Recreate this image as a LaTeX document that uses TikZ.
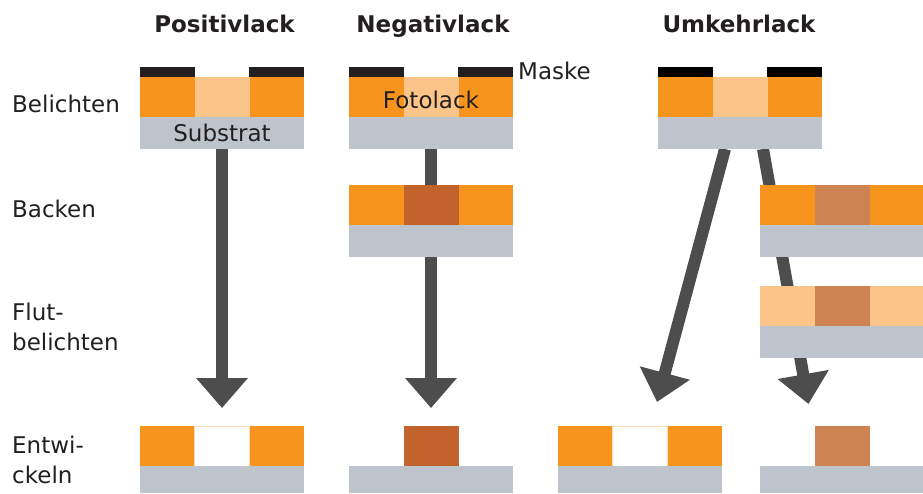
\documentclass[tikz,border=0pt]{standalone}
\usepackage{fontspec}
\setmainfont{DejaVu Sans}
\usetikzlibrary{arrows.meta}
\definecolor{ink}{HTML}{231F20}
\definecolor{resist}{HTML}{F7941E}
\definecolor{exposed}{HTML}{FBC589}
\definecolor{wafer}{HTML}{BEC4CB}
\definecolor{chrome}{HTML}{231F20}
\definecolor{baked}{HTML}{C1632B}
\definecolor{bakedlt}{HTML}{CD8452}
\definecolor{flowgray}{HTML}{4D4D4D}
\pgfdeclarelayer{back}
\pgfsetlayers{back,main}

\begin{document}
\begin{tikzpicture}[x=1pt,y=-1pt,text=ink,
  lbl/.style={font=\fontsize{23}{30}\selectfont,inner sep=0},
  colhead/.style={font=\fontsize{23}{30}\selectfont\bfseries,inner sep=0},
  film/.style={inner sep=0,outer sep=0,minimum width=164pt,minimum height=40pt,fill=resist},
  seg/.style={inner sep=0,outer sep=0,minimum width=55pt,minimum height=40pt},
  mask/.style={inner sep=0,outer sep=0,minimum width=55pt,minimum height=10pt,fill=chrome},
  sub/.style={inner sep=0,outer sep=0,minimum width=164pt,minimum height=32pt,fill=wafer},
  flow/.style={flowgray,line width=12pt,-{Triangle[width=50pt,length=30pt]}}]
  \useasboundingbox (0,0) rectangle (923,493);
  % column titles
  \node[colhead,anchor=base] (tPos) at (224.5,32) {Positivlack};
  \node[colhead,anchor=base] (tNeg) at (433,32) {Negativlack};
  \node[colhead,anchor=base] (tUmk) at (739,32) {Umkehrlack};
  % row labels (base = last line)
  \node[lbl,anchor=base west] (rBel) at (12,112) {Belichten};
  \node[lbl,anchor=base west] (rBack) at (12,217) {Backen};
  \node[lbl,anchor=base west,align=left] (rFlut) at (12,350) {Flut-\\belichten};
  \node[lbl,anchor=base west,align=left] (rEnt) at (12,483) {Entwi-\\ckeln};

  % Belichten
  \node[film,anchor=north west] (pF) at (140,77) {};
  \node[seg,fill=exposed] (pX) at (pF) {};
  \node[mask,anchor=south west] (pML) at (pF.north west) {};
  \node[mask,anchor=south east] (pMR) at (pF.north east) {};
  \node[sub,anchor=north,lbl] (pS) at (pF.south) {Substrat};

  \node[film,anchor=north west] (nF) at (349,77) {};
  \node[seg,fill=exposed] (nX) at (nF) {};
  \node[mask,anchor=south west] (nML) at (nF.north west) {};
  \node[mask,anchor=south east] (nMR) at (nF.north east) {};
  \node[sub,anchor=north] (nS) at (nF.south) {};
  \node[lbl,anchor=base] (fotolack) at (431,108) {Fotolack};
  \node[lbl,anchor=base west] (maske) at (518,79) {Maske};

  \node[film,anchor=north west] (uF) at (658,77) {};
  \node[seg,fill=exposed] (uX) at (uF) {};
  \node[mask,fill=black,anchor=south west] (uML) at (uF.north west) {};
  \node[mask,fill=black,anchor=south east] (uMR) at (uF.north east) {};
  \node[sub,anchor=north] (uS) at (uF.south) {};

  % Backen
  \node[film,anchor=north west] (nbF) at (349,185) {};
  \node[seg,fill=baked] (nbX) at (nbF) {};
  \node[sub,anchor=north] (nbS) at (nbF.south) {};

  \node[film,anchor=north west] (ubF) at (760,185) {};
  \node[seg,fill=bakedlt] (ubX) at (ubF) {};
  \node[sub,anchor=north] (ubS) at (ubF.south) {};

  % Flutbelichten
  \node[film,fill=exposed,anchor=north west] (ufF) at (760,286) {};
  \node[seg,fill=bakedlt] (ufX) at (ufF) {};
  \node[sub,anchor=north] (ufS) at (ufF.south) {};

  % Entwickeln
  \node[film,anchor=north west] (peF) at (140,426) {};
  \node[seg,fill=white,draw=exposed!60,line width=.6pt] (peX) at (peF) {};
  \node[sub,minimum height=27pt,anchor=north] (peS) at (peF.south) {};

  \node[sub,minimum height=27pt,anchor=north west] (neS) at (349,466) {};
  \node[seg,fill=baked,anchor=south] (neX) at (neS.north) {};

  \node[film,anchor=north west] (ueF) at (558,426) {};
  \node[seg,fill=white,draw=exposed!60,line width=.6pt] (ueX) at (ueF) {};
  \node[sub,minimum height=27pt,anchor=north] (ueS) at (ueF.south) {};

  \node[sub,minimum height=27pt,anchor=north west] (ve) at (760,466) {};
  \node[seg,fill=bakedlt,anchor=south] (veX) at (ve.north) {};

  % arrows behind the stacks
  \begin{pgfonlayer}{back}
    \draw[flow] (pS.south) -- ([yshift=18pt]peF.north);
    \draw[flow] (nS.south) -- ([yshift=18pt]neX.north);
    \draw[flow] ([xshift=-15pt]uS.south) -- ([xshift=17pt,yshift=24pt]ueF.north);
    \draw[flow] ([xshift=23pt]uS.south) -- ([xshift=-33.5pt,yshift=22pt]veX.north);
  \end{pgfonlayer}
\end{tikzpicture}
\end{document}
